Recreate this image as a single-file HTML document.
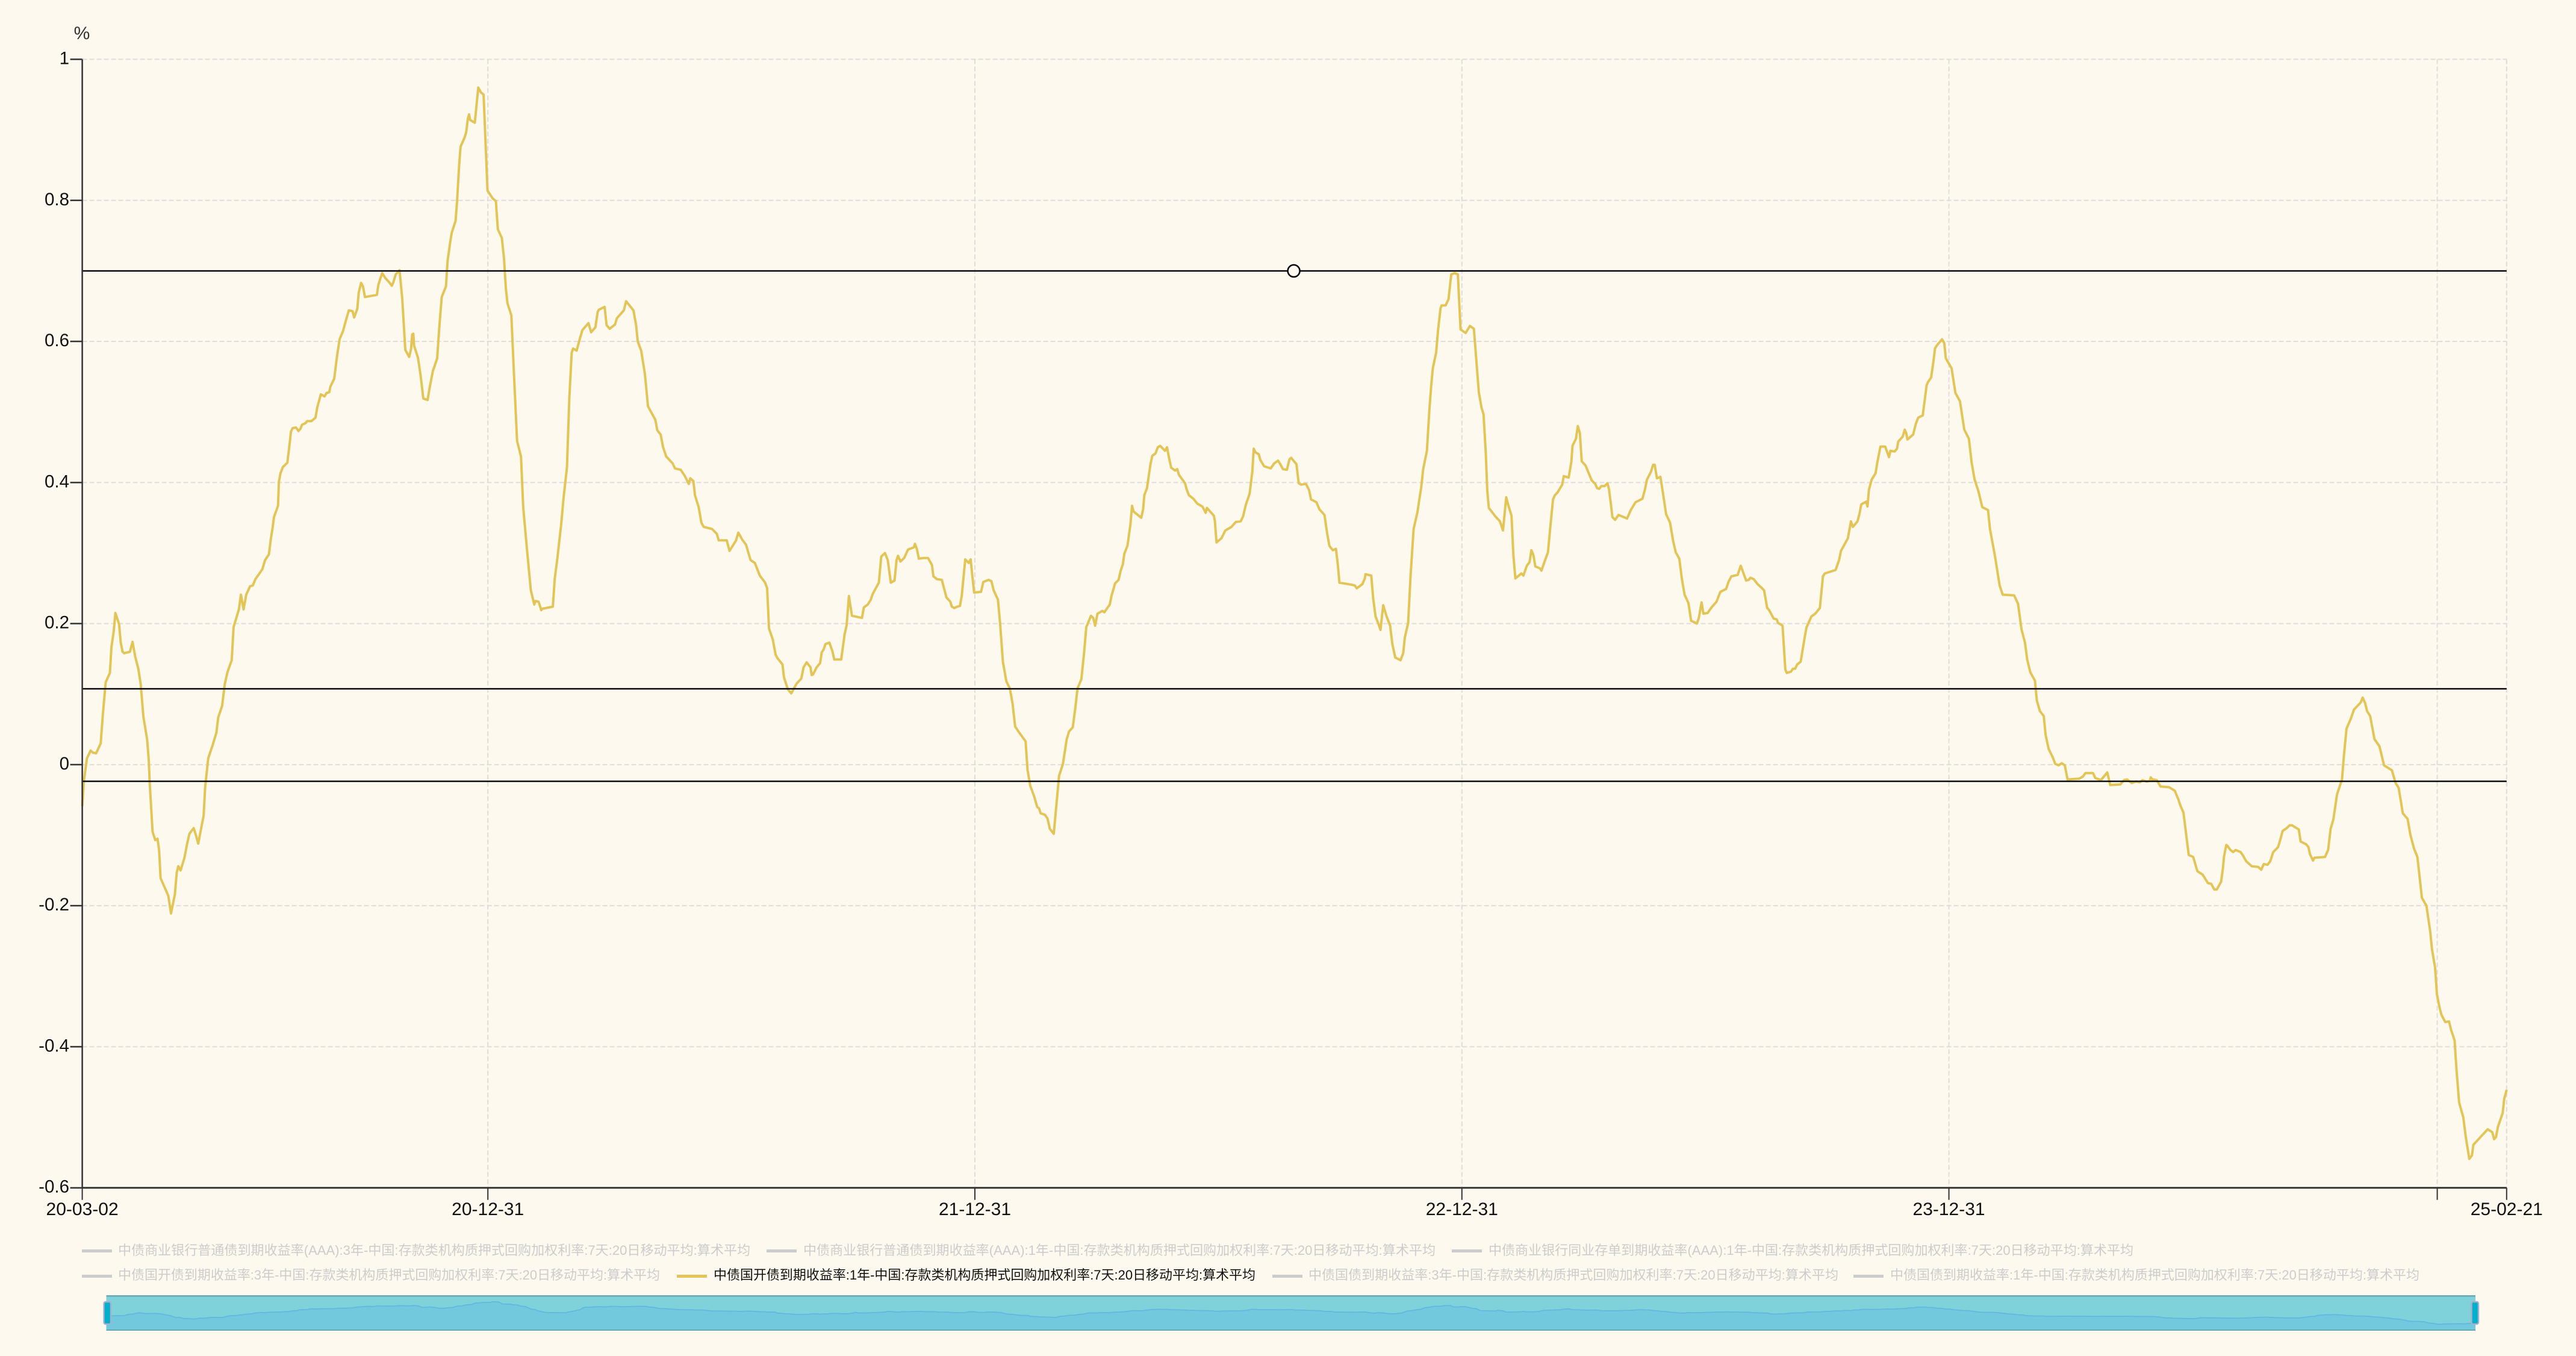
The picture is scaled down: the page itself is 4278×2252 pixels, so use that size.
<!DOCTYPE html>
<html lang="zh">
<head>
<meta charset="utf-8">
<title>利差走势图</title>
<style>
html,body{margin:0;padding:0;background:#fdf9ee;}
svg{display:block;}
text{font-family:"Liberation Sans","Noto Sans CJK SC",sans-serif;}
</style>
</head>
<body>
<svg id="chart" xmlns="http://www.w3.org/2000/svg" width="4278" height="2252" viewBox="0 0 4278 2252">
  <rect x="0" y="0" width="4278" height="2252" fill="#fdf9ee"/>
  <g id="grid"></g>
  <text x="136" y="65" font-size="30" fill="#333" text-anchor="middle">%</text>
  <path id="series-line" fill="none" stroke="#e3c557" stroke-width="4" stroke-linejoin="round"/>
  <g id="marklines"></g>
  <circle id="drag-point" r="10" fill="#fdf9ee" stroke="#000" stroke-width="2.5"/>
  <g id="axes"></g>

  <g>
    <g>
      <rect x="136" y="2075" width="50" height="5" fill="#ccc"/>
      <text x="196" y="2084" font-size="22" fill="#ccc" textLength="1050" lengthAdjust="spacingAndGlyphs">中债商业银行普通债到期收益率(AAA):3年-中国:存款类机构质押式回购加权利率:7天:20日移动平均:算术平均</text>
    </g>
    <g>
      <rect x="1273" y="2075" width="50" height="5" fill="#ccc"/>
      <text x="1334" y="2084" font-size="22" fill="#ccc" textLength="1050" lengthAdjust="spacingAndGlyphs">中债商业银行普通债到期收益率(AAA):1年-中国:存款类机构质押式回购加权利率:7天:20日移动平均:算术平均</text>
    </g>
    <g>
      <rect x="2411" y="2075" width="50" height="5" fill="#ccc"/>
      <text x="2472" y="2084" font-size="22" fill="#ccc" textLength="1071" lengthAdjust="spacingAndGlyphs">中债商业银行同业存单到期收益率(AAA):1年-中国:存款类机构质押式回购加权利率:7天:20日移动平均:算术平均</text>
    </g>
    <g>
      <rect x="136" y="2117" width="50" height="5" fill="#ccc"/>
      <text x="196" y="2125" font-size="22" fill="#ccc" textLength="900" lengthAdjust="spacingAndGlyphs">中债国开债到期收益率:3年-中国:存款类机构质押式回购加权利率:7天:20日移动平均:算术平均</text>
    </g>
    <g>
      <rect x="1124" y="2117" width="50" height="5" fill="#e3c557"/>
      <text x="1185" y="2125" font-size="22" fill="#111" textLength="900" lengthAdjust="spacingAndGlyphs">中债国开债到期收益率:1年-中国:存款类机构质押式回购加权利率:7天:20日移动平均:算术平均</text>
    </g>
    <g>
      <rect x="2113" y="2117" width="50" height="5" fill="#ccc"/>
      <text x="2173" y="2125" font-size="22" fill="#ccc" textLength="880" lengthAdjust="spacingAndGlyphs">中债国债到期收益率:3年-中国:存款类机构质押式回购加权利率:7天:20日移动平均:算术平均</text>
    </g>
    <g>
      <rect x="3078" y="2117" width="50" height="5" fill="#ccc"/>
      <text x="3139" y="2125" font-size="22" fill="#ccc" textLength="879" lengthAdjust="spacingAndGlyphs">中债国债到期收益率:1年-中国:存款类机构质押式回购加权利率:7天:20日移动平均:算术平均</text>
    </g>
  </g>

  <g>
    <rect x="176.5" y="2151" width="3934.5" height="59" rx="3" fill="#7fd2d9"/>
    <path id="spark-area" fill="#72c8dc" stroke="none"/>
    <path id="spark-line" fill="none" stroke="#5fb6e0" stroke-width="1.6"/>
    <rect x="176.5" y="2151" width="3934.5" height="2.6" fill="#6ba9b3"/>
    <rect x="176.5" y="2208" width="3934.5" height="2" fill="#66a8b8"/>
    <rect x="172.5" y="2162" width="11.5" height="37" rx="3" fill="#00b0cc" stroke="#a8aecb" stroke-width="2.4"/>
    <rect x="4104.5" y="2162" width="11.5" height="37" rx="3" fill="#00b0cc" stroke="#a8aecb" stroke-width="2.4"/>
  </g>
</svg>

<script>
var dayOffsets = [
0,1.2,3.5,6.3,8,10.4,13.8,15.5,17.6,20.7,
21.9,23.6,24.8,27.6,28.8,30.2,31.4,35.7,37.7,39.7,
42,43.8,45.8,48.6,49.8,50.7,52.7,54.7,56.4,57.6,
58.7,62.2,64.5,66.5,69.4,70.8,72,73.7,76.6,78.6,
80.3,83.5,85.2,86.9,91,92.1,94.4,97.6,100.5,101.9,
104.8,106.8,108.8,112,113.4,117.4,118.9,120.9,122.9,125.8,
127.8,129.8,135,137,139.9,141.4,142.6,143.7,146.7,147.4,
148.5,150.4,153.7,154.9,156.4,157.6,160.2,162,163.5,164.7,
167.3,168.5,171.8,174.8,176.2,178.8,181.6,183.1,185.1,186,
188.8,191.1,192.9,195.5,197.5,199.8,202.6,203.8,206.1,207.2,
209,210.4,211.9,220.8,221.9,224.8,227.1,230,232,233.2,
234.9,237.8,239.8,242.1,245,246.4,247.3,248.1,248.7,251.6,
253.6,255.6,258.8,260.2,262.8,266,267.7,269.4,272.6,273.8,
275.8,276.9,279.8,280.9,282.4,283.5,286.7,287.8,289,289.9,
290.7,294.2,295.3,296.8,298.8,300.8,303.7,307.5,310,311.5,
314.4,316.1,317.5,318.7,321.6,323.3,325.9,328.8,330.5,333.4,
336.2,338.8,339.7,342,344,344.9,352.7,354.1,356.1,359,
360.7,363.3,365,366.8,367.9,370.5,372.8,374.8,379.4,381.4,
384.6,386.3,387.2,391.5,393,395.3,399.3,400.7,405.9,407.6,
413.1,415.1,416.3,418.9,421.7,424,429.5,431,433.5,435.3,
437.6,442.5,444.2,448.5,451.4,454.6,455.7,458,459.2,462,
464,465.8,472.1,475.6,477,483,485.1,490,491.7,494.6,
497.4,500.9,504.1,507.8,511.8,513.3,514.7,517.6,519.6,521,
524.8,525.9,528.8,531.4,533.1,535.4,538.9,540.6,542.9,545.8,
546.7,547.8,550.4,553,554.2,555.6,557,559.9,562.2,563.6,
568.8,571.4,572.9,574.6,576.9,584.4,585.8,588.7,591,592.4,
595.9,597,598.8,601.6,603.7,606,608.8,610.3,611.4,613.2,
616,618.9,623.2,624.1,625.5,627,630.4,633.9,636.8,637.9,
640.5,644.2,647.7,650.6,651.7,653.5,655.8,657.8,659.2,661.8,
664.4,665.8,668.4,673.6,675.3,679.4,681.4,683.1,686.3,688,
690,692.6,695.2,697.2,699.2,702.4,707,708.5,710.5,713.4,
715.7,717.1,718.3,721.4,723.4,725.2,728.1,729.5,732.1,735,
737.8,739.6,742.4,744.5,745.9,748.8,750.8,752.5,756,757.7,
759.1,760.9,764.6,766,770.1,771.5,774.1,776.7,778.1,779.9,
781,783.3,785.6,786.8,787.9,793.7,795.1,796,798,800.6,
802,804.3,806.1,807.8,811.5,813,814.4,816.1,819,820.7,
821.9,826.5,827.6,829.4,832.8,835.7,839.5,841.2,842,842.9,
848.1,848.9,850.1,853.8,856.7,861.3,864.5,868.2,870,872,
874.9,876.9,878,879.2,881.8,882.9,885.8,890.7,893.3,896.2,
897.9,899.9,902.8,904.8,906,910,911.7,913.4,917.2,919.5,
920.9,925,927.2,931,933,934.7,937.3,939.6,941,942.2,
951.7,953.7,955.2,959.5,961.2,961.8,966.1,967.5,969.3,971.6,
973,975,977.6,980.2,981.9,984,988,990,991.2,993.7,
995.5,997.8,1000.7,1002.1,1003.5,1005,1007.8,1009.6,1011,1012.2,
1014.7,1016.2,1018,1018.8,1021.8,1024,1026,1028.7,1031,1032,
1033,1036.8,1040,1043,1044.3,1046.7,1048.7,1050.2,1051.9,1053,
1054.2,1059.1,1062.5,1064.8,1067.2,1068.9,1071.2,1072.6,1074.1,1078.6,
1080.1,1082.7,1084.7,1086.1,1087.6,1089,1092.8,1093.6,1095.6,1098.5,
1100.5,1102.3,1103.7,1105.7,1109.2,1110.3,1114,1116,1116.9,1119.5,
1120.9,1122.4,1123.8,1126.7,1130.4,1131.3,1133.9,1135.3,1137,1138.5,
1141,1143.1,1144.2,1145.7,1146.8,1148.8,1151.4,1157.8,1160.6,1164.1,
1169.3,1171.3,1172.7,1175.6,1177.3,1178.5,1180.2,1182.8,1185.1,1187.1,
1190,1192.3,1194.3,1196.9,1198.9,1200.9,1203.8,1205.8,1210.1,1211.6,
1213.6,1215,1218.2,1221.1,1224.8,1227.7,1232,1234,1236,1240.7,
1243,1247,1249,1250.2,1252.7,1255.6,1258.5,1260.5,1262.8,1264.3,
1267.7,1270,1270.9,1274.3,1276.4,1277.5,1280.7,1282.1,1283.8,1285.3,
1287.9,1290.8,1292.2,1295.9,1298.8,1302.3,1303.1,1304.6,1306,1314.1,
1316.7,1318.1,1323.3,1325.6,1327,1330.5,1331.9,1333.3,1337.1,1338,
1339.1,1341.1,1344,1345.4,1347.7,1351.2,1354.1,1355.2,1358.4,1360.1,
1361,1364.4,1365.9,1367,1367.9,1372.2,1374.2,1376,1379.4,1382.3,
1383.2,1385.7,1387.5,1388.6,1389.8,1393.8,1395.5,1396.7,1401,1403.9,
1407.3,1410.5,1414,1416,1418.3,1421.1,1424,1428.3,1429.8,1433.5,
1437,1439.3,1447.9,1450.8,1453.4,1456,1457.7,1460,1463.5,1464.9,
1467.2,1470.1,1471.5,1473.8,1476.7,1478.7,1481.3,1483.6,1485.9,1487.9,
1496.6,1499.4,1501.3,1507,1508.7,1512.9,1517.7,1519.9,1527.5,1530.3,
1532.6,1536,1539.3,1542.1,1544.1,1547.2,1549.5,1550.3,1551.4,1554.8,
1557.6,1564.1,1568.3,1571.1,1572.5,1574.8,1576.8,1578.7,1582.1,1585.2,
1589.2,1593.1,1595.6,1597.9,1599.8,1603,1604.3,1605.2,1606.9,1607.7,
1610,1612,1613.9,1617.6,1619.5,1621.8,1626,1630.8,1633.1,1635,
1637.8,1639.8,1642.1,1645.7,1647.7,1649.1,1652.2,1654.4,1656.1,1661.2,
1662.6,1666.8,1668.5,1669.6,1671.9,1673,1680.9,1683.2,1685.1,1687.1,
1689.9,1693.6,1695,1697,1700,1702.6,1707.6,1709.1,1711,1712.4,
1714.7,1718,1721.7,1725.1,1731,1733.8,1736.1,1739.2,1742.8,1744.8,
1747.6,1750.1,1753.5,1756.9,1759.7,1761.1,1763.4,1764.8,1766.7,1768.2,
1771,1773.8,1775.2,1778,1779.4,1781.4,1784.5,1786.4,1789,1791,
1792.1,1802.8,1806.2,1807.6,1809,1810.4,1814,1815.2,1817
];
var spreadValues = [
-.059,-.023,.009,.02,.017,.016,.03,.072,.117,.13,
.167,.189,.215,.199,.174,.16,.158,.16,.174,.153,
.136,.114,.068,.036,.008,-.03,-.095,-.107,-.105,-.121,
-.161,-.176,-.186,-.211,-.184,-.153,-.144,-.15,-.132,-.112,
-.098,-.09,-.1,-.112,-.072,-.032,.009,.027,.045,.067,
.083,.114,.131,.148,.195,.22,.241,.22,.241,.253,
.254,.263,.277,.29,.298,.321,.335,.351,.367,.401,
.413,.422,.428,.446,.472,.477,.478,.473,.476,.482,
.484,.487,.487,.492,.507,.525,.522,.527,.528,.536,
.547,.581,.603,.615,.629,.644,.643,.634,.646,.669,
.683,.678,.663,.666,.68,.697,.69,.684,.679,.684,
.695,.701,.661,.588,.578,.589,.61,.611,.594,.577,
.552,.519,.517,.533,.558,.576,.623,.663,.678,.714,
.741,.754,.771,.798,.848,.876,.89,.897,.916,.922,
.914,.91,.931,.96,.953,.95,.814,.803,.799,.759,
.747,.718,.675,.654,.637,.564,.459,.437,.365,.303,
.247,.227,.232,.231,.219,.221,.224,.263,.293,.342,
.378,.422,.518,.584,.59,.587,.603,.616,.626,.613,
.62,.642,.645,.649,.623,.618,.624,.633,.644,.657,
.644,.623,.6,.587,.554,.508,.489,.474,.468,.45,
.437,.427,.42,.418,.41,.398,.406,.402,.382,.365,
.343,.337,.334,.327,.318,.318,.303,.318,.329,.319,
.312,.29,.286,.268,.258,.25,.193,.177,.156,.151,
.142,.124,.107,.101,.107,.115,.122,.138,.145,.138,
.127,.128,.138,.144,.159,.163,.171,.173,.161,.149,
.149,.185,.198,.239,.211,.208,.223,.227,.234,.242,
.254,.258,.295,.3,.29,.258,.261,.29,.296,.288,
.293,.305,.308,.313,.306,.292,.293,.293,.283,.267,
.263,.262,.237,.231,.224,.222,.224,.225,.24,.291,
.286,.291,.244,.245,.259,.262,.26,.247,.234,.198,
.146,.118,.108,.087,.054,.045,.033,-.008,-.03,-.045,
-.06,-.062,-.069,-.071,-.076,-.091,-.098,-.069,-.016,.001,
.036,.047,.053,.084,.108,.121,.158,.195,.211,.208,
.197,.214,.218,.216,.227,.24,.257,.262,.274,.284,
.299,.31,.341,.367,.359,.35,.362,.382,.392,.426,
.438,.441,.45,.452,.445,.45,.436,.421,.417,.419,
.411,.399,.391,.382,.377,.37,.366,.36,.357,.364,
.353,.345,.315,.321,.332,.337,.344,.345,.352,.368,
.384,.415,.448,.443,.44,.432,.423,.42,.427,.431,
.426,.419,.418,.433,.435,.426,.399,.397,.398,.389,
.376,.372,.362,.354,.328,.31,.304,.306,.284,.258,
.255,.254,.25,.256,.264,.27,.268,.236,.21,.199,
.191,.226,.21,.197,.171,.152,.148,.158,.18,.201,
.267,.334,.358,.376,.393,.419,.445,.502,.537,.562,
.584,.617,.647,.651,.651,.66,.695,.697,.695,.654,
.617,.612,.622,.618,.586,.528,.506,.497,.441,.389,
.364,.352,.345,.332,.379,.367,.353,.297,.264,.271,
.268,.282,.287,.304,.297,.281,.278,.275,.286,.301,
.341,.376,.382,.386,.397,.409,.407,.429,.452,.462,
.48,.47,.43,.424,.407,.403,.398,.392,.391,.395,
.395,.399,.391,.369,.351,.347,.354,.349,.361,.372,
.377,.391,.404,.415,.425,.425,.406,.408,.38,.355,
.343,.317,.301,.292,.263,.241,.229,.204,.2,.208,
.23,.214,.215,.223,.231,.245,.249,.26,.267,.269,
.282,.261,.262,.265,.263,.256,.251,.247,.222,.219,
.207,.206,.201,.197,.135,.13,.132,.136,.136,.142,
.146,.179,.194,.21,.214,.222,.238,.267,.271,.276,
.29,.303,.321,.345,.337,.345,.355,.369,.373,.366,
.39,.404,.413,.429,.451,.451,.436,.445,.444,.448,
.458,.465,.475,.47,.461,.468,.483,.492,.495,.538,
.542,.549,.573,.59,.594,.603,.598,.576,.562,.527,
.515,.475,.462,.429,.404,.388,.365,.361,.334,.296,
.254,.241,.24,.228,.192,.173,.149,.131,.119,.091,
.076,.069,.042,.022,.011,.001,-.001,.002,-.001,-.021,
-.02,-.017,-.012,-.012,-.019,-.022,-.011,-.029,-.028,-.022,
-.021,-.026,-.024,-.025,-.022,-.024,-.023,-.018,-.021,-.022,
-.031,-.032,-.037,-.05,-.058,-.068,-.099,-.128,-.131,-.151,
-.156,-.168,-.169,-.177,-.177,-.166,-.148,-.13,-.114,-.115,
-.121,-.124,-.121,-.124,-.129,-.137,-.144,-.145,-.149,-.141,
-.142,-.137,-.124,-.117,-.104,-.094,-.09,-.086,-.086,-.092,
-.109,-.113,-.117,-.127,-.136,-.132,-.131,-.121,-.091,-.078,
-.042,-.021,.012,.051,.064,.078,.088,.095,.087,.076,
.069,.036,.026,-.001,-.008,-.026,-.033,-.069,-.077,-.099,
-.119,-.131,-.189,-.2,-.236,-.262,-.288,-.326,-.344,-.355,
-.365,-.364,-.375,-.391,-.432,-.479,-.5,-.528,-.559,-.554,
-.539,-.517,-.521,-.531,-.528,-.514,-.494,-.474,-.461
];
var yTickValues = [1, 0.8, 0.6, 0.4, 0.2, 0, -0.2, -0.4, -0.6];
var yTickLabels = ['1', '0.8', '0.6', '0.4', '0.2', '0', '-0.2', '-0.4', '-0.6'];
var xTickDays = [0, 304, 669, 1034, 1399, 1765, 1817];
var xTickLabels = ['20-03-02', '20-12-31', '21-12-31', '22-12-31', '23-12-31', '', '25-02-21'];
var markLineValues = [0.7, 0.1075, -0.0236];
var markHandleDay = 908;

var SVGNS = 'http://www.w3.org/2000/svg';
var plotLeft = 136.6, plotRight = 4162.8, plotTop = 98.5, plotBottom = 1972.7;
var domainDays = 1817, domainMax = 1, domainMin = -0.6;

function xScale(day) { return plotLeft + (day / domainDays) * (plotRight - plotLeft); }
function yScale(v) { return plotTop + ((domainMax - v) / (domainMax - domainMin)) * (plotBottom - plotTop); }
function sparkX(day) { return 176.5 + (day / domainDays) * 3934.5; }
function sparkY(v) { return 2185.5 - 24.7 * v; }
function make(tag, parent, attrs) {
  var el = document.createElementNS(SVGNS, tag);
  for (var k in attrs) { el.setAttribute(k, attrs[k]); }
  parent.appendChild(el);
  return el;
}

var gridG = document.getElementById('grid');
var axesG = document.getElementById('axes');
var markG = document.getElementById('marklines');

yTickValues.forEach(function (v, i) {
  var y = yScale(v);
  if (v !== domainMin) {
    var gl = make('line', gridG, {x1: plotLeft, x2: plotRight, y1: y, y2: y, stroke: '#dedddb', 'stroke-width': 2, 'stroke-dasharray': '8 4'});
    
    
  }
  var t = make('line', axesG, {x1: plotLeft - 20, x2: plotLeft, y1: y, y2: y, stroke: '#333', 'stroke-width': 2.5});
  
  
  var lab = make('text', axesG, {x: 115, y: y + 8, 'font-size': 29.5, fill: '#111', 'text-anchor': 'end'});
  
  
  lab.textContent = yTickLabels[i];
});

xTickDays.forEach(function (d, i) {
  var x = xScale(d);
  if (d !== 0) {
    var gl = make('line', gridG, {x1: x, x2: x, y1: plotTop, y2: plotBottom, stroke: '#dedddb', 'stroke-width': 2, 'stroke-dasharray': '8 4'});
    
    
  }
  var t = make('line', axesG, {x1: x, x2: x, y1: plotBottom, y2: plotBottom + 20, stroke: '#333', 'stroke-width': 2});
  
  
  if (xTickLabels[i]) {
    var lab = make('text', axesG, {x: x, y: 2018, 'font-size': 30, fill: '#111', 'text-anchor': 'middle'});
    
    
    lab.textContent = xTickLabels[i];
  }
});

var yAxisLine = make('line', axesG, {x1: plotLeft, x2: plotLeft, y1: plotTop, y2: plotBottom, stroke: '#333', 'stroke-width': 2.5});


var xAxisLine = make('line', axesG, {x1: plotLeft, x2: plotRight, y1: plotBottom, y2: plotBottom, stroke: '#333', 'stroke-width': 2.8});



markLineValues.forEach(function (v) {
  var y = yScale(v);
  var ml = make('line', markG, {x1: plotLeft, x2: plotRight, y1: y, y2: y, stroke: '#000', 'stroke-width': 2.4});
  
  
});

var handle = document.getElementById('drag-point');
handle.setAttribute('cx', xScale(markHandleDay));
handle.setAttribute('cy', yScale(markLineValues[0]));

var linePts = [], sparkPts = [];
for (var i = 0; i < dayOffsets.length; i++) {
  linePts.push(xScale(dayOffsets[i]).toFixed(1) + ' ' + yScale(spreadValues[i]).toFixed(1));
  sparkPts.push(sparkX(dayOffsets[i]).toFixed(1) + ' ' + sparkY(spreadValues[i]).toFixed(1));
}
document.getElementById('series-line').setAttribute('d', 'M' + linePts.join('L'));
document.getElementById('spark-line').setAttribute('d', 'M' + sparkPts.join('L'));
document.getElementById('spark-area').setAttribute('d', 'M' + sparkPts.join('L') + 'L' + sparkX(domainDays) + ' 2209L' + sparkX(0) + ' 2209Z');
</script>
</body>
</html>
